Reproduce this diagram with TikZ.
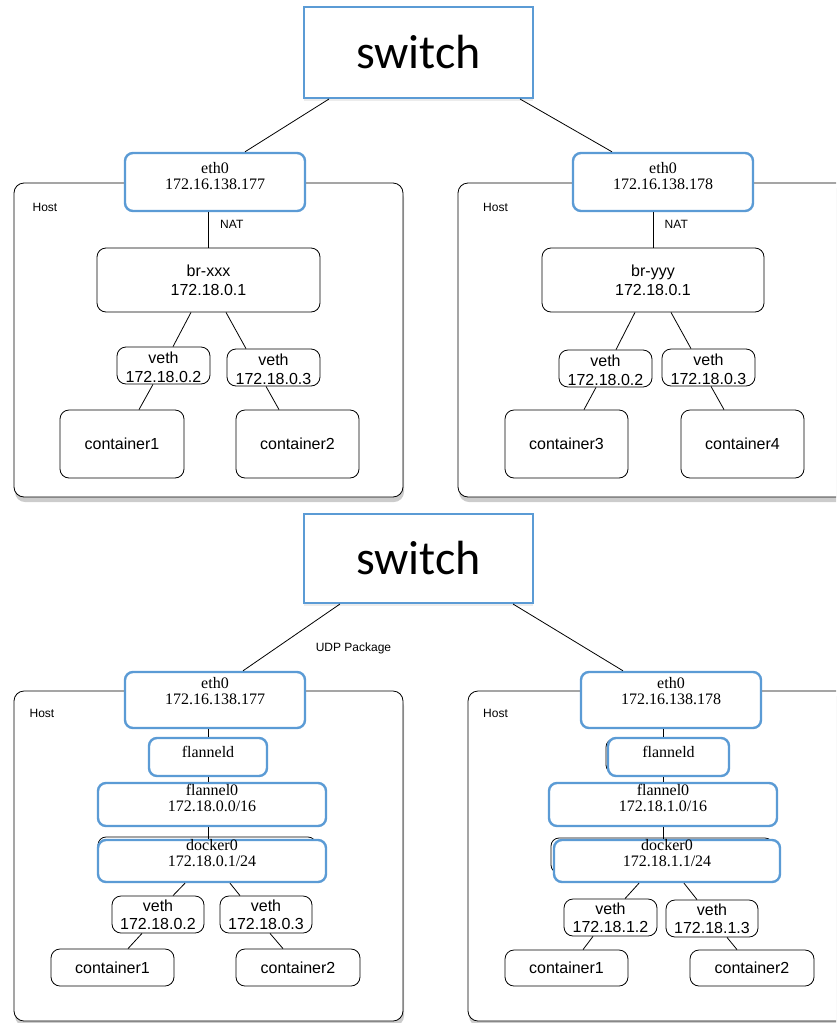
\documentclass[tikz,border=0pt]{standalone}
\usepackage{fontspec}
\setmainfont{Liberation Serif}
\setsansfont{Liberation Sans}
\newfontfamily\swfont{Carlito}
\usetikzlibrary{shadows}
\definecolor{ifblue}{RGB}{91,155,213}

\begin{document}
\begin{tikzpicture}[x=1pt,y=-1pt,line width=0.8pt,
    switch node/.style={draw=ifblue,line width=2pt,fill=white,font=\swfont\fontsize{48}{48}\selectfont,drop shadow={opacity=0.15,shadow xshift=0pt,shadow yshift=-3pt}},
    host node/.style={draw,rounded corners=10pt,fill=white,drop shadow={opacity=0.4,shadow xshift=1pt,shadow yshift=-5pt}},
    if node/.style={draw=ifblue,line width=2.4pt,rounded corners=8pt,fill=white,align=center,inner ysep=0pt,font=\fontsize{16}{16}\selectfont},
    dev node/.style={draw,rounded corners=9pt,fill=white,align=center,inner ysep=0pt,font=\sffamily\fontsize{16}{19}\selectfont},
    small label/.style={font=\sffamily\fontsize{12}{12}\selectfont},
    ghost box/.style={draw,rounded corners=8pt}]
    \clip (0,0) rectangle (836,1023);

    % upper half: bridge + NAT
    \node[switch node,minimum width=229,minimum height=91] at (418.5,52.5) (sw1) {switch};
    \node[host node,minimum width=389,minimum height=314] at (208.5,340) (hostA) {};
    \node[host node,minimum width=392,minimum height=314] at (654,340) (hostB) {};
    \node[small label] at (45,207) (hlA) {Host};
    \node[small label] at (495.5,207) (hlB) {Host};

    \node[if node,minimum width=180,text height=36pt,text depth=22pt] at (215,182) (ethA) {eth0\\172.16.138.177};
    \node[if node,minimum width=180,text height=36pt,text depth=22pt] at (663,182) (ethB) {eth0\\172.16.138.178};
    \node[dev node,minimum width=223,text height=47pt,text depth=17pt] at (208.5,280) (brA) {br-xxx\\172.18.0.1};
    \node[dev node,minimum width=222,text height=47pt,text depth=17pt] at (653,280) (brB) {br-yyy\\172.18.0.1};
    \node[dev node,minimum width=93,text height=35pt,text depth=2pt] at (163.5,365.5) (vethA1) {veth\\172.18.0.2};
    \node[dev node,minimum width=93,text height=35pt,text depth=2pt] at (273.5,367.5) (vethA2) {veth\\172.18.0.3};
    \node[dev node,minimum width=93,text height=35pt,text depth=2pt] at (605.5,368.5) (vethB1) {veth\\172.18.0.2};
    \node[dev node,minimum width=93,text height=35pt,text depth=2pt] at (708.5,367.5) (vethB2) {veth\\172.18.0.3};
    \node[dev node,minimum width=124,minimum height=68] at (122,444) (conA1) {container1};
    \node[dev node,minimum width=123,minimum height=68] at (297.5,444) (conA2) {container2};
    \node[dev node,minimum width=123,minimum height=68] at (566.5,444) (conB1) {container3};
    \node[dev node,minimum width=123,minimum height=68] at (742.5,444) (conB2) {container4};

    \path[every node/.style={small label}]
        ([xshift=-89.5pt]sw1.south) edge ([xshift=30pt]ethA.north)
        ([xshift=101.5pt]sw1.south) edge ([xshift=-51pt]ethB.north)
        (brA.north |- ethA.south) edge node[pos=0.35,right,xshift=8pt] {NAT} (brA.north)
        (brB.north |- ethB.south) edge node[pos=0.35,right,xshift=8pt] {NAT} (brB.north)
        ([xshift=-17.5pt]brA.south) edge ([xshift=9.5pt]vethA1.north)
        ([xshift=17.5pt]brA.south) edge ([xshift=-27.5pt]vethA2.north)
        ([xshift=-10.5pt]vethA1.south) edge ([xshift=17pt]conA1.north)
        ([xshift=-7.5pt]vethA2.south) edge ([xshift=-18.5pt]conA2.north)
        ([xshift=-18pt]brB.south) edge ([xshift=10.5pt]vethB1.north)
        ([xshift=18pt]brB.south) edge ([xshift=-17.5pt]vethB2.north)
        ([xshift=-9.5pt]vethB1.south) edge ([xshift=17.5pt]conB1.north)
        ([xshift=2.5pt]vethB2.south) edge ([xshift=-18.5pt]conB2.north)
        ;

    % lower half: flannel overlay
    \node[switch node,minimum width=229,minimum height=89] at (418.5,558.5) (sw2) {switch};
    \node[host node,minimum width=389,minimum height=330] at (208.5,856) (hostC) {};
    \node[host node,minimum width=382,minimum height=330] at (659,856) (hostD) {};
    \node[small label] at (42,713) (hlC) {Host};
    \node[small label] at (495.5,713) (hlD) {Host};
    \node[small label] at (353.5,648) (udp) {UDP Package};

    \draw[ghost box] (98,837) rectangle (316,878);
    \draw[ghost box] (551,838) rectangle (773,873);
    \draw[ghost box] (606,739) rectangle (724,773);

    \node[if node,minimum width=180,text height=32pt,text depth=24pt] at (215,700) (ethC) {eth0\\172.16.138.177};
    \node[if node,minimum width=180,text height=32pt,text depth=24pt] at (671,700) (ethD) {eth0\\172.16.138.178};
    \node[if node,minimum width=118,text height=19pt,text depth=19pt] at (208,757) (fldC) {flanneld};
    \node[if node,minimum width=121,text height=19pt,text depth=19pt] at (668.5,757) (fldD) {flanneld};
    \node[if node,minimum width=228,text height=28pt,text depth=15pt] at (212,804.5) (flC) {flannel0\\172.18.0.0/16};
    \node[if node,minimum width=228,text height=28pt,text depth=15pt] at (663,804.5) (flD) {flannel0\\172.18.1.0/16};
    \node[if node,minimum width=228,text height=26pt,text depth=16pt] at (212,861) (dkC) {docker0\\172.18.0.1/24};
    \node[if node,minimum width=226,text height=26pt,text depth=16pt] at (667,861) (dkD) {docker0\\172.18.1.1/24};
    \node[dev node,minimum width=92,text height=33pt,text depth=4pt,font=\sffamily\fontsize{16}{18}\selectfont] at (158,914.5) (vethC1) {veth\\172.18.0.2};
    \node[dev node,minimum width=92,text height=33pt,text depth=4pt,font=\sffamily\fontsize{16}{18}\selectfont] at (266,914.5) (vethC2) {veth\\172.18.0.3};
    \node[dev node,minimum width=93,text height=33pt,text depth=4pt,font=\sffamily\fontsize{16}{18}\selectfont] at (610.5,917.5) (vethD1) {veth\\172.18.1.2};
    \node[dev node,minimum width=92,text height=33pt,text depth=4pt,font=\sffamily\fontsize{16}{18}\selectfont] at (712,918.5) (vethD2) {veth\\172.18.1.3};
    \node[dev node,minimum width=123,minimum height=37] at (112.5,967.5) (conC1) {container1};
    \node[dev node,minimum width=124,minimum height=37] at (298,967.5) (conC2) {container2};
    \node[dev node,minimum width=123,minimum height=36] at (566.5,968) (conD1) {container1};
    \node[dev node,minimum width=124,minimum height=36] at (752,968) (conD2) {container2};

    \path
        ([xshift=-78.5pt]sw2.south) edge ([xshift=28pt]ethC.north)
        ([xshift=94.5pt]sw2.south) edge ([xshift=-48pt]ethD.north)
        (fldC.north |- ethC.south) edge (fldC.north)
        (fldC.south) edge (fldC.south |- flC.north)
        (fldC.south |- flC.south) edge (fldC.south |- dkC.north)
        ([xshift=-27pt]dkC.south) edge ([xshift=15pt]vethC1.north)
        ([xshift=18pt]dkC.south) edge ([xshift=-26pt]vethC2.north)
        ([xshift=-16pt]vethC1.south) edge ([xshift=15.5pt]conC1.north)
        ([xshift=4pt]vethC2.south) edge ([xshift=-15pt]conC2.north)
        (flD.north |- ethD.south) edge (flD.north |- fldD.north)
        (flD.north |- fldD.south) edge (flD.north)
        (flD.south) edge (flD.south |- dkD.north)
        ([xshift=-28pt]dkD.south) edge ([xshift=14.5pt]vethD1.north)
        ([xshift=17pt]dkD.south) edge ([xshift=-15pt]vethD2.north)
        ([xshift=-17.5pt]vethD1.south) edge ([xshift=16.5pt]conD1.north)
        ([xshift=15pt]vethD2.south) edge ([xshift=-15pt]conD2.north)
        ;
\end{tikzpicture}
\end{document}
